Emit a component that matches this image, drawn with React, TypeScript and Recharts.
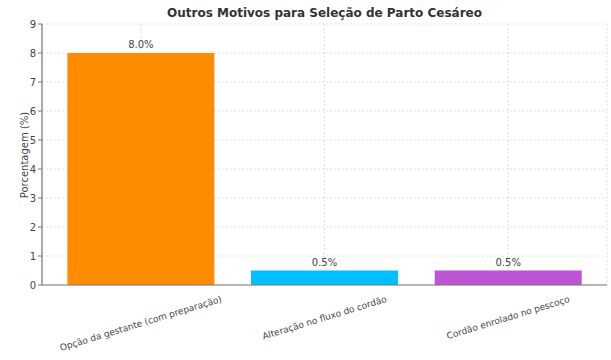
import React from 'react';
import { BarChart, Bar, XAxis, YAxis, CartesianGrid, Cell, LabelList } from 'recharts';

const categories = [
  'Opção da gestante (com preparação)',
  'Alteração no fluxo do cordão',
  'Cordão enrolado no pescoço',
];
const percentages = [8.0, 0.5, 0.5];
const barColors = ['#FF8C00', '#00BFFF', '#BA55D3'];
const yTicks = [0, 1, 2, 3, 4, 5, 6, 7, 8, 9];

const data = categories.map((name, i) => ({ name, value: percentages[i] }));

const FONT = '"DejaVu Sans", sans-serif';
const ANGLE = 17;
const TICK_FONT = 9;

let ctx: CanvasRenderingContext2D | null = null;
const measure = (s: string) => {
  if (!ctx) ctx = document.createElement('canvas').getContext('2d');
  if (!ctx) return s.length * 5;
  ctx.font = `${TICK_FONT}px "DejaVu Sans"`;
  return ctx.measureText(s).width;
};

const RotatedTick = (props: any) => {
  const { x, y, payload } = props;
  const w = measure(payload.value);
  const rad = (ANGLE * Math.PI) / 180;
  const cy = y + 9 + (w * Math.sin(rad) + 10 * Math.cos(rad)) / 2;
  return (
    <text
      x={x}
      y={cy}
      textAnchor="middle"
      dominantBaseline="central"
      fontSize={TICK_FONT}
      fontFamily={FONT}
      fill="#444"
      transform={`rotate(-${ANGLE}, ${x}, ${cy})`}
    >
      {payload.value}
    </text>
  );
};

export default function App() {
  return (
    <div style={{ position: 'absolute', left: 0, top: 0, width: 611, height: 360, background: '#fff' }}>
      <div
        style={{
          position: 'absolute', left: 42, width: 565, top: 6, textAlign: 'center',
          fontFamily: FONT, fontWeight: 'bold', fontSize: 12, color: '#333',
        }}
      >
        Outros Motivos para Seleção de Parto Cesáreo
      </div>
      <div
        style={{
          position: 'absolute', left: 24, top: 155, transform: 'translate(-50%, -50%) rotate(-90deg)',
          fontFamily: FONT, fontSize: 10, color: '#444', whiteSpace: 'nowrap',
        }}
      >
        Porcentagem (%)
      </div>
      <BarChart
        width={611}
        height={360}
        data={data}
        margin={{ top: 24, right: 4, left: 0, bottom: 0 }}
        barCategoryGap="10%"
      >
        <CartesianGrid stroke="#e2e2e2" strokeDasharray="2 2" vertical={false} />
        <XAxis
          dataKey="name"
          height={75}
          padding={{ left: 7, right: 7 }}
          tick={<RotatedTick />}
          tickLine={false}
          tickSize={0}
          tickMargin={0}
          interval={0}
          axisLine={{ stroke: '#777', strokeWidth: 1.2 }}
        />
        <YAxis
          width={42}
          domain={[0, 9]}
          ticks={yTicks}
          interval={0}
          tick={{ fontSize: 10, fontFamily: FONT, fill: '#444' }}
          tickSize={4}
          tickLine={{ stroke: '#777' }}
          axisLine={{ stroke: '#777', strokeWidth: 1.2 }}
        />
        <Bar dataKey="value" isAnimationActive={false}>
          {data.map((d, i) => (
            <Cell key={d.name} fill={barColors[i]} />
          ))}
          <LabelList
            dataKey="value"
            position="top"
            offset={5}
            formatter={(v: any) => `${Number(v).toFixed(1)}%`}
            style={{ fontSize: 10, fontFamily: FONT, fill: '#444' }}
          />
        </Bar>
        <CartesianGrid stroke="#bbb" strokeOpacity={0.45} strokeDasharray="2 2" horizontal={false} />
      </BarChart>
    </div>
  );
}
